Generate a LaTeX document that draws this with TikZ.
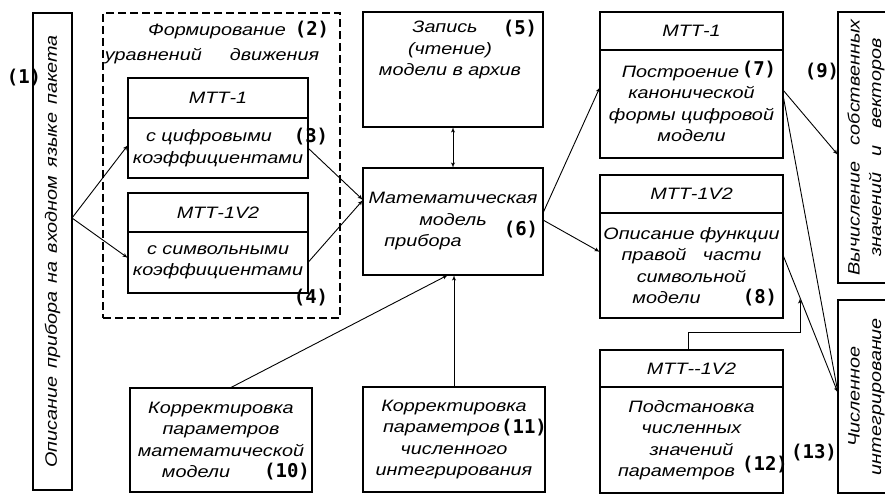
\documentclass[tikz,border=0pt]{standalone}
\usepackage{fontspec}
\newfontfamily\gost{Liberation Sans}[FakeStretch=1.2]
\newfontfamily\numf{DejaVu Sans Mono}
\usepackage{tikz}
\usetikzlibrary{arrows,shapes}
\usetikzlibrary{positioning}
\tikzstyle{block} = [draw, rectangle, line width=1.1pt, inner sep=0pt, outer sep=0pt,
    align=center, font=\gost\itshape\fontsize{16.5}{21.5}\selectfont]
\tikzstyle{head} = [block, minimum width=183pt]
\tikzstyle{txt} = [inner sep=0pt, align=center, font=\gost\itshape\fontsize{16.5}{21.5}\selectfont]
\tikzstyle{num} = [inner sep=0pt, font=\numf\bfseries\fontsize{19}{19}\selectfont]
\tikzstyle{conn} = [draw, line width=0.9pt, -latex']

\begin{document}
\begin{tikzpicture}[x=1pt, y=-1pt]
  \useasboundingbox (0,0) rectangle (885,497);
  % Place nodes
  \node [block, minimum width=39pt, minimum height=477pt] (opis) at (52.5,251.5)
  {\rotatebox{90}{Описание\enspace прибора\enspace на\enspace входном\enspace языке\enspace пакета}};
  \node [block, dash pattern=on 8pt off 4pt, minimum width=237pt, minimum height=305pt] (formir) at (221.5,165.5) {};
  \node [txt] (tformir) at (217,31) {Формирование};
  \node [txt] (tformir2) at (212,56) {уравнений\hspace{28pt}движения};
  \node [head, minimum width=180pt, minimum height=40pt] (hdr3) at (218,98) {МТТ-1};
  \node [block, below=0pt of hdr3, minimum width=180pt, minimum height=60pt] (b3)
  {с цифровыми\hspace*{18pt}\\коэффициентами};
  \node [head, minimum width=180pt, minimum height=39pt] (hdr4) at (218,212.5) {МТТ-1V2};
  \node [block, below=0pt of hdr4, minimum width=180pt, minimum height=61pt] (b4)
  {с символьными\\коэффициентами};
  \node [block, minimum width=180pt, minimum height=115pt] (arh) at (453,69.5) {};
  \node [txt] (tarh) at (450,50) {Запись\hspace*{10pt}\\(чтение)\hspace*{30pt}\\модели в архив};
  \node [block, minimum width=180pt, minimum height=107pt] (mat) at (453,221.5)
  {Математическая\\модель\hspace*{68pt}\\прибора\hspace*{60pt}};
  \node [head, minimum height=38pt] (hdr7) at (691.5,31) {МТТ-1};
  \node [block, below=0pt of hdr7, minimum width=183pt, minimum height=108pt] (b7)
  {Построение\hspace*{22pt}\\канонической\hspace*{40pt}\\формы цифровой\\модели};
  \node [head, minimum height=38pt] (hdr8) at (691.5,194) {МТТ-1V2};
  \node [block, below=0pt of hdr8, minimum width=183pt, minimum height=105pt] (b8)
  {Описание функции\\правой\quad части\hspace*{20pt}\\символьной\\модели\hspace*{50pt}};
  \node [head, minimum height=37pt] (hdr12) at (691.5,368.5) {МТТ-{}-1V2};
  \node [block, below=0pt of hdr12, minimum width=183pt, minimum height=106pt] (b12)
  {Подстановка\\численных\\значений\\параметров\hspace*{30pt}};
  \node [block, minimum width=56pt, minimum height=271pt] (vych) at (866,147.5)
  {\rotatebox{90}{\begin{tabular}{@{}c@{}}Вычисление\quad собственных\\значений\quad и\quad векторов\end{tabular}}};
  \node [block, minimum width=56pt, minimum height=193pt] (chisl) at (866,396.5)
  {\rotatebox{90}{\begin{tabular}{@{}c@{}}Численное\\интегрирование\end{tabular}}};
  \node [block, minimum width=182pt, minimum height=104pt] (kor1) at (221,440)
  {Корректировка\\параметров\\математической\\модели\hspace*{50pt}};
  \node [block, minimum width=182pt, minimum height=105pt] (kor2) at (454,439.5)
  {Корректировка\\\makebox[182pt][l]{\hspace{20pt}параметров}\\численного\hspace*{40pt}\\интегрирования};
  % numbers
  \node [num] (n1) at (24,78) {(1)};
  \node [num] (n2) at (312,30) {(2)};
  \node [num] (n3) at (311,137) {(3)};
  \node [num] (n4) at (311,298) {(4)};
  \node [num] (n5) at (520,29) {(5)};
  \node [num] (n6) at (521,230) {(6)};
  \node [num] (n7) at (759,70) {(7)};
  \node [num] (n8) at (760,298) {(8)};
  \node [num] (n9) at (822,72) {(9)};
  \node [num] (n10) at (287,472) {(10)};
  \node [num] (n11) at (524,428) {(11)};
  \node [num] (n12) at (765,465) {(12)};
  \node [num] (n13) at (814,453) {(13)};
  % Draw edges
  \draw [conn] ([yshift=33.5pt]opis.east) -- ([yshift=3pt]b3.west);
  \draw [conn] ([yshift=33.5pt]opis.east) -- ([yshift=4.5pt]b4.west);
  \draw [conn] (b3.east) -- ([yshift=21.5pt]mat.west);
  \draw [conn] (b4.east) -- ([yshift=21.5pt]mat.west);
  \draw [conn, latex'-latex'] (mat.north) -- (arh.south);
  \draw [conn] ([yshift=8.5pt]mat.east) -- ([yshift=17pt]b7.west);
  \draw [conn] ([yshift=1.5pt]mat.east) -- ([yshift=13.5pt]b8.west);
  \draw [conn] ([yshift=14pt]b7.east) -- ([yshift=-7.5pt]vych.west);
  \draw [conn] ([yshift=9pt]b7.east) -- ([yshift=3.5pt]chisl.west);
  \draw [conn] ([yshift=10.5pt]b8.east) -- ([yshift=3.5pt]chisl.west);
  \coordinate (m12) at (800,298);
  \draw [conn] ([xshift=-3.5pt]hdr12.north) -- ++(0,-18) -| (m12);
  \draw [conn] ([xshift=9pt]kor1.north) -- ([xshift=-5pt]mat.south);
  \draw [conn] (kor2.north) -- (kor2.north |- mat.south);
\end{tikzpicture}
\end{document}
